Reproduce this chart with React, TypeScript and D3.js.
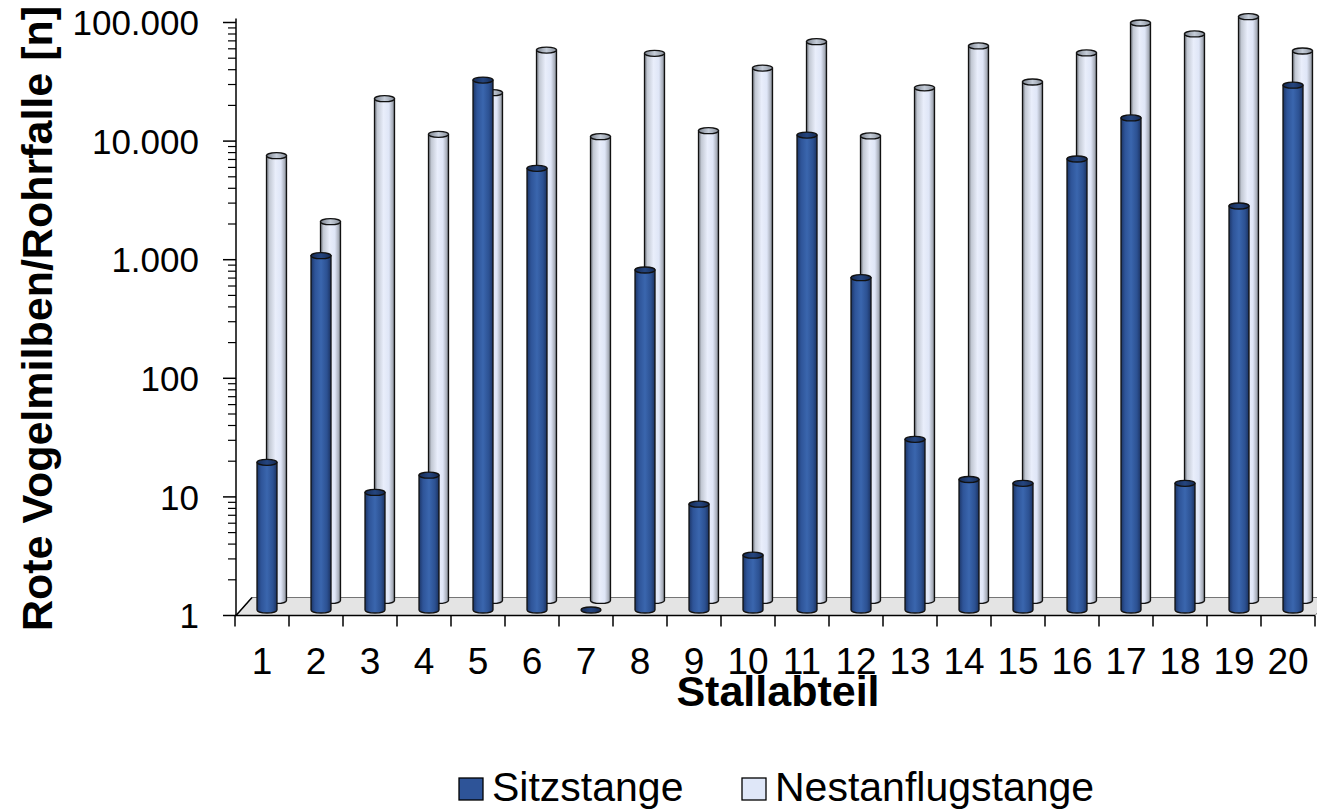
import React from 'react';
import * as d3 from 'd3';

const categories = ['1','2','3','4','5','6','7','8','9','10','11','12','13','14','15','16','17','18','19','20'];
const sitzstange = [17.6, 971, 9.8, 13.7, 29400, 5300, 1, 736, 7.8, 2.9, 10100, 634, 27.5, 12.6, 11.7, 6350, 14100, 11.7, 2550, 26600];
const nestanflugstange = [5620, 1560, 17000, 8510, 19100, 43700, 8130, 41000, 9130, 30800, 51400, 8240, 21000, 47300, 23500, 41300, 73900, 59700, 83500, 42900];
const yTickValues = [1, 10, 100, 1000, 10000, 100000];
const yTickLabels = ['1', '10', '100', '1.000', '10.000', '100.000'];
const seriesNames = ['Sitzstange', 'Nestanflugstange'];

const W = 1317, H = 809;
const FONT = '"Liberation Sans", Arial, sans-serif';

export default function App() {
  const x = d3.scaleBand().domain(categories).range([235, 1315]).padding(0);
  const y = d3.scaleLog().domain([1, 100000]).range([615.5, 22.5]);
  const bw = x.bandwidth();
  const r = 10, ry = 3;
  const frontDy = -5.5, backDy = -15.1, frontDx = 5, backDx = 14.5;

  const minorTicks: number[] = [];
  for (let d = 0; d < 5; d++) for (let k = 2; k <= 9; k++) minorTicks.push(k * Math.pow(10, d));

  const cyl = (cx: number, ty: number, by: number, body: string, top: string, key: string) => {
    const path = `M${cx - r},${ty} L${cx - r},${by} A${r},${ry} 0 0 0 ${cx + r},${by} L${cx + r},${ty} Z`;
    return (
      <g key={key}>
        {by - ty > 0.5 && <path d={path} fill={`url(#${body})`} stroke="#111" strokeWidth={1.3} />}
        <ellipse cx={cx} cy={ty} rx={r} ry={ry} fill={`url(#${top})`} stroke="#111" strokeWidth={1.3} />
      </g>
    );
  };

  const floorY = y(1);
  const depthX = 16, depthY = -18;

  return (
    <svg width={W} height={H} style={{ position: 'absolute', left: 0, top: 0, background: '#fff' }} fontFamily={FONT}>
      <defs>
        <linearGradient id="gLight" x1="0" x2="1" y1="0" y2="0">
          <stop offset="0" stopColor="#6f747c" />
          <stop offset="0.15" stopColor="#c3c9d4" />
          <stop offset="0.45" stopColor="#e9eefb" />
          <stop offset="0.72" stopColor="#dfe6f7" />
          <stop offset="0.9" stopColor="#aab0bc" />
          <stop offset="1" stopColor="#6b7078" />
        </linearGradient>
        <linearGradient id="gLightTop" x1="0" x2="1" y1="0" y2="0">
          <stop offset="0" stopColor="#7c838e" />
          <stop offset="0.5" stopColor="#c4ccd8" />
          <stop offset="1" stopColor="#8a919c" />
        </linearGradient>
        <linearGradient id="gBlue" x1="0" x2="1" y1="0" y2="0">
          <stop offset="0" stopColor="#1c3566" />
          <stop offset="0.2" stopColor="#2e5498" />
          <stop offset="0.5" stopColor="#3a66ae" />
          <stop offset="0.8" stopColor="#2c5192" />
          <stop offset="1" stopColor="#1b3260" />
        </linearGradient>
        <linearGradient id="gBlueTop" x1="0" x2="1" y1="0" y2="0">
          <stop offset="0" stopColor="#162b55" />
          <stop offset="0.5" stopColor="#254680" />
          <stop offset="1" stopColor="#162b55" />
        </linearGradient>
      </defs>

      {/* floor */}
      <polygon
        points={`236,${floorY} 1315,${floorY} ${1315 + depthX},${floorY + depthY} ${236 + depthX},${floorY + depthY}`}
        fill="#e4e4e4" stroke="#555" strokeWidth={0.8} />
      <line x1={236} y1={floorY} x2={236 + depthX} y2={floorY + depthY} stroke="#000" strokeWidth={1.5} />

      {/* back row */}
      {categories.map((c, i) => {
        const cx = (x(c) as number) + bw / 2 + backDx;
        return cyl(cx, y(nestanflugstange[i]) + backDy, y(1) + backDy, 'gLight', 'gLightTop', 'b' + i);
      })}
      {/* front row */}
      {categories.map((c, i) => {
        const cx = (x(c) as number) + bw / 2 + frontDx;
        return cyl(cx, y(sitzstange[i]) + frontDy, y(1) + frontDy, 'gBlue', 'gBlueTop', 'f' + i);
      })}

      {/* y axis */}
      <line x1={236} x2={236} y1={y(100000) - 4} y2={y(1)} stroke="#000" strokeWidth={1.5} />
      {minorTicks.map((v, i) => (
        <line key={'m' + i} x1={228} x2={236} y1={y(v)} y2={y(v)} stroke="#000" strokeWidth={1.2} />
      ))}
      {yTickValues.map((v, i) => (
        <g key={'y' + i}>
          <line x1={223} x2={236} y1={y(v)} y2={y(v)} stroke="#000" strokeWidth={1.5} />
          <text x={199} y={y(v)} dy="0.36em" textAnchor="end" fontSize={35} fill="#000">{yTickLabels[i]}</text>
        </g>
      ))}

      {/* x axis */}
      <line x1={235} x2={1315} y1={floorY} y2={floorY} stroke="#000" strokeWidth={1.5} />
      {d3.range(categories.length + 1).map(i => {
        const tx = 235 + i * bw;
        return <line key={'xt' + i} x1={tx} x2={tx} y1={floorY} y2={floorY + 11} stroke="#000" strokeWidth={1.5} />;
      })}
      {categories.map((c, i) => (
        <text key={'xl' + i} x={(x(c) as number) + bw / 2} y={674} textAnchor="middle" fontSize={37} fill="#000">{c}</text>
      ))}

      {/* titles */}
      <text x={778} y={706} textAnchor="middle" fontSize={43} fontWeight="bold" fill="#000">Stallabteil</text>
      <text transform={`translate(52,318.5) rotate(-90)`} textAnchor="middle" fontSize={43} fontWeight="bold" fill="#000">Rote Vogelmilben/Rohrfalle [n]</text>

      {/* legend */}
      <rect x={459} y={778} width={24} height={22} fill="#2e5498" stroke="#000" strokeWidth={1.3} />
      <text x={492} y={801} fontSize={41} fill="#000">{seriesNames[0]}</text>
      <rect x={742} y={778} width={24} height={22} fill="#dfe7f8" stroke="#000" strokeWidth={1.3} />
      <text x={775} y={801} fontSize={41} fill="#000">{seriesNames[1]}</text>
    </svg>
  );
}
